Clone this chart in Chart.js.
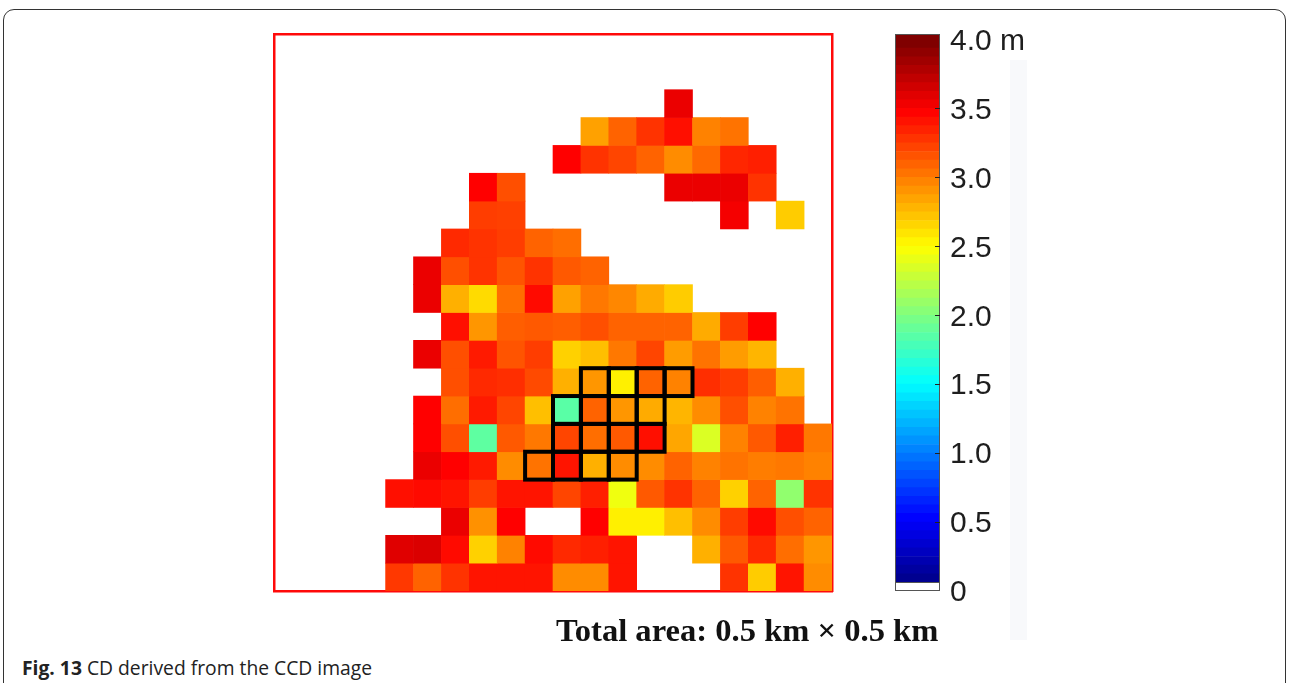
<!DOCTYPE html>
<html>
<head>
<meta charset="utf-8">
<title>CD map</title>
<script src="https://cdn.jsdelivr.net/npm/chart.js@4.4.1/dist/chart.umd.min.js"></script>
<style>
  html, body { margin: 0; padding: 0; background: #fff; width: 1292px; height: 683px; overflow: hidden; }
  .frame { position: absolute; left: 3px; top: 9px; width: 1283px; height: 720px;
           border: 1.5px solid #333; border-radius: 11px; box-sizing: border-box; }
  .strip { position: absolute; left: 1010px; top: 60px; width: 17px; height: 580px; background: #f8f9fb; }
  #mapBox { position: absolute; left: 270px; top: 30px; width: 566px; height: 565px; }
  #barBox { position: absolute; left: 885px; top: 4px; width: 160px; height: 617px; }
  .area { position: absolute; left: 556px; top: 612px; white-space: nowrap; line-height: 1;
          font: bold 32.6px "Liberation Serif", "Times New Roman", serif; color: #111; }
  .caption { position: absolute; left: 22px; top: 654px; white-space: nowrap; line-height: 1;
             font: 19.3px "Open Sans", "Noto Sans", sans-serif; color: #222; }
  .caption b { font-weight: 700; }
</style>
</head>
<body>
<div class="frame"></div>
<div class="strip"></div>
<div id="mapBox"><canvas id="map"></canvas></div>
<div id="barBox"><canvas id="bar"></canvas></div>
<div class="area">Total area: 0.5 km × 0.5 km</div>
<div class="caption"><b>Fig. 13</b> CD derived from the CCD image</div>

<script>
// 20 x 20 grid of cells (each 25 m); value = CD in metres, 0 = no data (white)
const columns = ['1','2','3','4','5','6','7','8','9','10','11','12','13','14','15','16','17','18','19','20'];
const cd = [
  [0,0,0,0,0,0,0,0,0,0,0,0,0,0,0,0,0,0,0,0],
  [0,0,0,0,0,0,0,0,0,0,0,0,0,0,0,0,0,0,0,0],
  [0,0,0,0,0,0,0,0,0,0,0,0,0,0,3.58,0,0,0,0,0],
  [0,0,0,0,0,0,0,0,0,0,0,2.87,3.11,3.30,3.44,2.99,3.05,0,0,0],
  [0,0,0,0,0,0,0,0,0,0,3.50,3.30,3.23,3.11,2.95,3.09,3.35,3.38,0,0],
  [0,0,0,0,0,0,0,3.50,3.19,0,0,0,0,0,3.58,3.58,3.58,3.30,0,0],
  [0,0,0,0,0,0,0,3.26,3.25,0,0,0,0,0,0,0,3.54,0,2.70,0],
  [0,0,0,0,0,0,3.34,3.30,3.26,3.11,3.07,0,0,0,0,0,0,0,0,0],
  [0,0,0,0,0,3.58,3.19,3.30,3.17,3.30,3.15,3.11,0,0,0,0,0,0,0,0],
  [0,0,0,0,0,3.58,2.81,2.64,3.07,3.46,2.87,3.03,2.97,2.83,2.70,0,0,0,0,0],
  [0,0,0,0,0,0,3.44,2.91,3.13,3.15,3.13,3.19,3.11,3.11,3.11,2.83,3.26,3.50,0,0],
  [0,0,0,0,0,3.58,3.19,3.40,3.17,3.26,2.68,2.75,3.03,3.23,2.89,3.05,2.89,2.79,0,0],
  [0,0,0,0,0,0,3.19,3.34,3.32,3.21,2.81,2.91,2.56,3.11,2.99,3.32,3.26,3.13,2.81,0],
  [0,0,0,0,0,3.50,3.07,3.40,3.23,2.75,1.85,3.11,2.91,2.83,2.79,2.95,3.19,2.99,3.05,0],
  [0,0,0,0,0,3.50,3.19,1.87,3.15,3.03,3.23,3.07,3.15,3.44,2.85,2.36,2.99,3.15,3.38,3.03],
  [0,0,0,0,0,3.58,3.50,3.40,2.95,3.05,3.42,2.81,2.95,2.95,3.11,2.99,3.05,3.01,3.03,2.99],
  [0,0,0,0,3.44,3.46,3.42,3.26,3.42,3.42,3.23,3.38,2.44,3.15,3.30,3.11,2.68,3.11,2.07,3.30],
  [0,0,0,0,0,0,3.58,2.93,3.50,0,0,3.50,2.56,2.56,2.75,2.95,3.26,3.46,3.19,3.11],
  [0,0,0,0,3.62,3.64,3.46,2.68,2.99,3.46,3.34,3.38,3.42,0,0,2.81,3.15,3.34,3.07,2.91],
  [0,0,0,0,3.28,3.11,3.30,3.42,3.42,3.42,2.95,2.95,3.42,0,0,0,3.30,2.70,3.42,2.95]
];
// highlighted cells [row, column]
const outlined = [
  [12,11],[12,12],[12,13],[12,14],
  [13,10],[13,11],[13,12],[13,13],
  [14,10],[14,11],[14,12],[14,13],
  [15,9],[15,10],[15,11],[15,12]
];
// colour bar
const scaleMax = 4;
const barTop = 4.04;
const scaleTicks = [0, 0.5, 1, 1.5, 2, 2.5, 3, 3.5, 4];
const levelCount = 64;

// MATLAB-style jet colour map
function jet(v) {
  const t = v / scaleMax;
  const ch = c => Math.round(255 * Math.max(0, Math.min(1, 1.5 - Math.abs(4 * t - c))));
  return 'rgb(' + ch(3) + ',' + ch(2) + ',' + ch(1) + ')';
}

// ---- CD map ----
const mapDatasets = cd.map((row, r) => ({
  data: row.map(v => (v > 0 ? [r, r + 1] : null)),
  backgroundColor: ctx => jet(row[ctx.dataIndex]),
  borderWidth: 0,
  categoryPercentage: 1,
  barPercentage: 1
}));

const hiddenAxis = {
  display: true,
  ticks: { display: false },
  grid: { display: false, drawTicks: false },
  border: { display: true, color: '#ff0a0a', width: 2.5 }
};

const outlinePlugin = {
  id: 'outlinePlugin',
  afterDatasetsDraw(chart) {
    const { ctx, scales: { x, y } } = chart;
    const w = x.width / columns.length;
    ctx.save();
    ctx.strokeStyle = '#000';
    ctx.lineWidth = 4;
    ctx.lineJoin = 'miter';
    outlined.forEach(([r, c]) => {
      const cx = x.getPixelForValue(c);
      const y0 = y.getPixelForValue(r);
      const y1 = y.getPixelForValue(r + 1);
      ctx.strokeRect(cx - w / 2, y0, w, y1 - y0);
    });
    ctx.restore();
  }
};

new Chart(document.getElementById('map'), {
  type: 'bar',
  data: { labels: columns, datasets: mapDatasets },
  options: {
    responsive: true,
    maintainAspectRatio: false,
    animation: false,
    events: [],
    layout: { padding: 4 },
    plugins: { legend: { display: false }, tooltip: { enabled: false } },
    scales: {
      x: Object.assign({ type: 'category', position: 'bottom', stacked: true }, hiddenAxis),
      y: Object.assign({ type: 'linear', position: 'left', min: 0, max: 20, reverse: true }, hiddenAxis),
      xTop: Object.assign({ type: 'linear', position: 'top', min: 0, max: 20 }, hiddenAxis),
      yRight: Object.assign({ type: 'linear', position: 'right', min: 0, max: 20 }, hiddenAxis)
    }
  },
  plugins: [outlinePlugin]
});

// ---- colour bar ----
const step = scaleMax / levelCount;
const barDatasets = [];
for (let i = 0; i < levelCount; i++) {
  barDatasets.push({
    data: [[i * step, i === levelCount - 1 ? barTop : (i + 1) * step]],
    backgroundColor: i === 0 ? '#ffffff' : jet(i / (levelCount - 1) * scaleMax),
    borderWidth: 0,
    categoryPercentage: 1,
    barPercentage: 1
  });
}

const barFramePlugin = {
  id: 'barFramePlugin',
  afterDatasetsDraw(chart) {
    const { ctx, chartArea: a, scales: { y } } = chart;
    ctx.save();
    ctx.strokeStyle = '#555';
    ctx.lineWidth = 1;
    ctx.strokeRect(a.left + 0.5, a.top + 0.5, a.right - a.left - 1, a.bottom - a.top - 1);
    const yw = y.getPixelForValue(step);
    ctx.beginPath();
    ctx.moveTo(a.left, Math.round(yw) + 0.5);
    ctx.lineTo(a.right, Math.round(yw) + 0.5);
    ctx.stroke();
    ctx.strokeStyle = '#222';
    scaleTicks.forEach(v => {
      if (v <= 0 || v >= scaleMax) return;
      const py = Math.round(y.getPixelForValue(v)) + 0.5;
      ctx.beginPath();
      ctx.moveTo(a.right - 5, py);
      ctx.lineTo(a.right, py);
      ctx.stroke();
    });
    ctx.restore();
  }
};

new Chart(document.getElementById('bar'), {
  type: 'bar',
  data: { labels: [''], datasets: barDatasets },
  options: {
    responsive: true,
    maintainAspectRatio: false,
    animation: false,
    events: [],
    layout: { padding: { left: 10, right: 0, top: 30, bottom: 30 } },
    plugins: { legend: { display: false }, tooltip: { enabled: false } },
    scales: {
      x: { type: 'category', display: false, stacked: true },
      y: {
        type: 'linear',
        position: 'right',
        min: 0,
        max: barTop,
        stacked: false,
        grid: { display: false, drawTicks: false },
        border: { display: false },
        afterBuildTicks: s => { s.ticks = scaleTicks.map(v => ({ value: v })); },
        afterFit: s => { s.width = 105; },
        ticks: {
          padding: 10,
          labelOffset: 2,
          color: '#1e1e1e',
          font: { family: '"Liberation Sans", Arial, sans-serif', size: 30 },
          callback: v => (v === 0 ? '0' : v === scaleMax ? v.toFixed(1) + ' m' : v.toFixed(1))
        }
      }
    }
  },
  plugins: [barFramePlugin]
});
</script>
</body>
</html>
